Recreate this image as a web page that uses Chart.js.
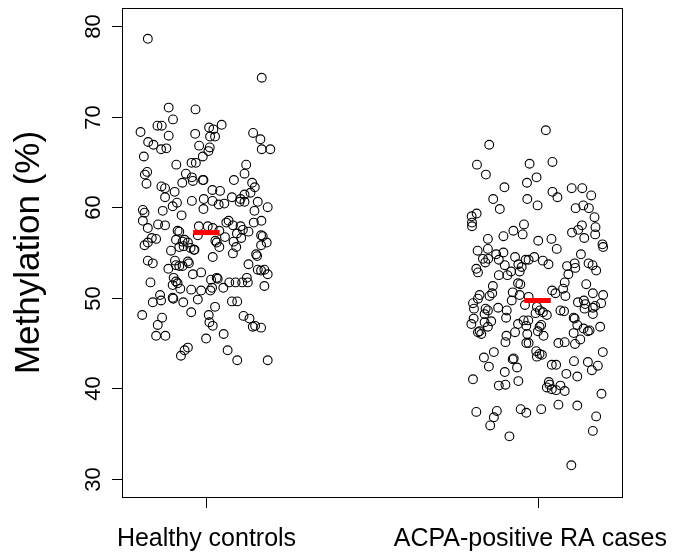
<!DOCTYPE html>
<html>
<head>
<meta charset="utf-8">
<script src="https://cdn.jsdelivr.net/npm/chart.js@4"></script>
<style>
  html, body { margin: 0; padding: 0; background: #fff; }
  #wrap { width: 681px; height: 557px; }
</style>
</head>
<body>
<div id="wrap"><canvas id="chart" width="681" height="557"></canvas></div>
<script>
// groups sit at x = 1 and x = 2, points spread sideways by a small offset
const groups = ["Healthy controls", "ACPA-positive RA cases"];
const groupPos = [1, 2];
const yTicks = [30, 40, 50, 60, 70, 80];

const healthyValues = [
  78.6, 74.3, 71.0, 70.8, 69.7, 69.0, 69.0, 68.8, 68.6, 69.1,
  68.3, 67.9, 68.1, 67.8, 67.8, 68.2, 67.5, 67.2, 66.9, 66.4,
  66.5, 66.8, 66.6, 66.2, 66.4, 66.4, 65.6, 65.6, 64.7, 64.9,
  64.9, 64.7, 63.6, 63.9, 63.7, 63.3, 62.9, 62.7, 63.0, 63.0,
  63.7, 63.0, 62.6, 62.3, 62.1, 61.7, 61.9, 61.8, 62.7, 62.2,
  61.1, 60.9, 61.1, 60.9, 61.4, 61.6,
  59.7, 59.4, 59.6, 60.1, 60.5, 59.1, 60.7, 59.8, 60.7, 60.3, 60.4, 60.6, 60.6, 59.6, 60.6, 60.0,
  58.5, 57.7, 58.1, 58.0, 57.4, 57.3, 57.9, 57.9, 57.7, 57.4, 58.3, 58.5, 58.0, 57.1, 57.9, 57.5, 57.3, 58.3, 58.5,
  56.9, 55.8, 56.1, 56.6, 56.5, 56.4, 56.2, 56.4, 56.1, 55.6, 55.7, 55.5, 55.3, 55.3, 56.3, 56.1, 55.6, 56.7, 56.2, 55.6, 56.6, 56.9, 56.8, 56.1, 55.8,
  55.2, 54.9, 54.5, 54.8, 54.6, 54.1, 53.8, 54.1, 53.6, 53.5, 53.5, 54.0, 53.8, 53.2, 52.6, 52.8, 53.7, 53.1, 53.0, 53.1, 52.6,
  51.7, 52.2, 51.8, 51.6, 51.4, 51.0, 50.9, 50.8, 50.8, 51.1, 52.0, 52.2, 52.1, 51.1, 51.7, 51.7, 51.7, 52.2, 51.7, 51.3,
  50.3, 49.5, 49.7, 50.0, 49.9, 49.5, 49.8, 48.4, 49.0, 49.6, 49.6,
  48.1, 47.8, 47.0, 45.8, 45.8, 48.1, 47.3, 46.9, 48.0, 47.7, 46.8, 46.9, 46.7, 46.0, 45.5, 44.5, 44.2, 43.6, 44.2, 43.1, 43.1
];
const healthyJitter = [
  -0.177, 0.167, -0.114, -0.033, -0.101, -0.148, -0.135, 0.008, 0.021, 0.046,
  -0.199, -0.114, -0.034, 0.011, 0.026, 0.141, 0.163, -0.176, -0.160, -0.137,
  -0.121, -0.022, 0.010, 0.006, 0.167, 0.193, -0.189, -0.011, -0.091, -0.045,
  -0.032, 0.120, -0.186, -0.179, -0.062, -0.044, -0.041, -0.073, -0.011, -0.009,
  0.115, 0.083, -0.181, -0.136, -0.125, -0.096, 0.018, 0.041, 0.138, 0.146,
  -0.125, -0.008, 0.077, 0.103, 0.115, 0.133,
  -0.192, -0.187, -0.132, -0.102, -0.089, -0.075, -0.044, -0.009, 0.018, 0.037, 0.054, 0.100, 0.115, 0.145, 0.155, 0.185,
  -0.192, -0.177, -0.146, -0.125, -0.087, -0.082, -0.023, 0.004, 0.019, 0.039, 0.060, 0.067, 0.080, 0.092, 0.103, 0.110, 0.127, 0.143, 0.166,
  -0.026, -0.187, -0.177, -0.165, -0.152, -0.092, -0.072, -0.066, -0.056, -0.082, -0.069, -0.048, -0.038, -0.036, 0.027, 0.031, 0.039, 0.056, 0.082, 0.090, 0.105, 0.165, 0.170, 0.182, 0.165,
  -0.107, 0.080, 0.019, 0.150, 0.153, -0.177, -0.162, -0.095, -0.092, -0.082, -0.072, -0.056, -0.053, -0.115, -0.041, -0.016, 0.127, 0.155, 0.165, 0.175, 0.185,
  -0.169, -0.099, -0.092, -0.087, -0.102, -0.079, -0.046, -0.016, 0.012, 0.017, 0.014, 0.031, 0.034, 0.051, 0.069, 0.088, 0.108, 0.122, 0.125, 0.175,
  -0.140, -0.162, -0.137, -0.102, -0.100, -0.070, -0.026, -0.046, 0.026, 0.077, 0.093,
  -0.194, -0.134, -0.147, -0.152, -0.124, 0.007, 0.009, 0.019, 0.112, 0.130, 0.140, 0.147, 0.165, 0.052, -0.001, -0.056, -0.066, -0.077, 0.064, 0.093, 0.185
];

const acpaValues = [
  68.5, 66.9, 64.7, 64.8, 65.0, 63.6, 62.2, 62.7, 63.3, 60.9,
  59.8, 60.9, 60.2, 61.7, 61.1, 62.1, 62.1, 61.3, 59.9, 60.2,
  59.9, 58.9, 59.0, 59.3, 58.3, 57.9, 58.1, 57.4, 57.0, 56.8,
  56.5, 56.3, 56.5, 55.4, 57.2, 57.5, 58.0, 56.6, 57.8, 57.0,
  55.9, 55.6, 55.2, 55.4, 55.0, 54.8, 54.3, 53.9, 54.3, 54.2,
  53.6, 54.5, 53.7, 53.4, 54.2, 54.2, 54.5, 54.1, 53.7, 52.9,
  52.9, 52.5, 52.5, 53.2, 52.8, 53.5, 53.8, 53.3, 54.8, 53.8,
  53.6, 53.0, 52.6,
  51.3, 51.6, 51.5, 51.7, 51.5, 50.8, 51.0, 50.5, 50.2, 50.5,
  50.3, 50.3, 49.9, 50.2, 50.5, 50.6, 49.7, 50.3, 50.1, 49.2,
  49.4, 48.8, 48.9, 48.6, 47.8, 48.8, 48.2, 48.6, 49.5, 49.7,
  49.3, 48.8, 48.9, 49.1, 49.4, 48.6, 48.5, 48.6, 48.4, 48.1,
  48.3, 49.0, 47.5, 47.5, 47.1, 47.7, 47.1, 47.3, 47.4, 46.8,
  46.2, 46.0, 46.3, 45.8, 45.1, 46.2, 46.9, 46.0, 45.0, 45.0,
  46.3, 46.8, 47.0, 45.8, 47.8, 47.7, 47.0, 46.6, 46.3, 46.4,
  48.2, 46.8, 46.1, 45.4, 44.9, 45.0, 45.1, 44.0, 44.0, 43.4,
  42.4, 43.2, 43.3, 42.3, 41.8, 41.0, 40.3, 40.4, 40.8, 44.1,
  43.8, 43.7, 43.5, 42.6, 42.6, 41.6, 41.3, 43.0, 42.9, 42.0,
  42.5, 40.7, 40.4, 40.1, 39.9, 39.8, 40.3, 39.7, 39.4, 37.4,
  36.8, 37.5, 35.9, 37.7, 37.3, 37.7, 38.2, 38.1, 36.9, 35.3,
  34.7, 31.5
];
const acpaJitter = [
  0.025, -0.146, -0.183, -0.024, 0.045, -0.156, -0.100, -0.032, -0.003, -0.134,
  -0.114, -0.031, 0.000, 0.045, 0.060, 0.103, 0.135, 0.162, 0.115, 0.138,
  0.155, 0.172, -0.199, -0.184, -0.198, -0.198, -0.041, -0.073, -0.045, -0.103,
  -0.150, 0.002, 0.042, 0.058, 0.104, 0.123, 0.134, 0.141, 0.175, 0.174,
  0.196, 0.198, -0.181, -0.150, -0.103, -0.125, -0.165, -0.158, -0.149, -0.117,
  -0.099, -0.068, -0.058, -0.048, -0.036, -0.027, -0.010, 0.016, 0.033, -0.054,
  -0.080, -0.091, -0.117, -0.185, -0.180, 0.089, 0.112, 0.114, 0.131, 0.154,
  0.166, 0.177, 0.093,
  -0.135, -0.059, -0.052, 0.082, 0.147, 0.044, 0.077, 0.054, 0.084, 0.167,
  0.198, -0.175, -0.180, -0.145, -0.137, -0.075, -0.078, -0.054, -0.027, -0.038,
  -0.195, -0.192, -0.119, -0.093, -0.095, -0.157, -0.160, -0.150, 0.122, 0.140,
  0.144, 0.142, 0.167, 0.174, 0.192, 0.069, 0.080, 0.007, 0.016, 0.028,
  -0.006, -0.002, -0.042, -0.028, -0.059, -0.193, -0.200, -0.160, -0.140, -0.150,
  -0.180, -0.170, -0.175, -0.094, -0.097, -0.068, -0.034, -0.031, -0.034, -0.027,
  0.001, 0.006, 0.011, 0.018, 0.109, 0.112, 0.120, 0.139, 0.152, 0.157,
  0.167, 0.189, 0.109, 0.129, 0.113, 0.063, 0.082, 0.197, -0.132, -0.162,
  -0.147, -0.075, -0.072, -0.062, -0.099, -0.195, -0.117, -0.097, -0.058, -0.004,
  0.006, 0.013, -0.002, 0.043, 0.056, 0.087, 0.120, 0.110, 0.152, 0.164,
  0.182, 0.034, 0.036, 0.028, 0.043, 0.056, 0.069, 0.082, 0.193, -0.185,
  -0.132, -0.123, -0.143, -0.051, -0.034, 0.011, 0.063, 0.120, 0.177, 0.167,
  -0.085, 0.102
];

// group medians, drawn as short red bars
const medians = [57.2, 49.7];

const FONT = "'Liberation Sans', Arial, Helvetica, sans-serif";

function toPoints(values, jitter, pos) {
  return values.map((v, i) => ({ x: pos + jitter[i], y: v }));
}

function medianBar(pos, m) {
  return [{ x: pos - 0.04, y: m }, { x: pos + 0.04, y: m }];
}

// R-style frame: box, outside ticks, rotated y labels, group names, y title
const frame = {
  id: "frame",
  afterDraw(chart) {
    const ctx = chart.ctx;
    const a = chart.chartArea;
    const xs = chart.scales.x;
    const ys = chart.scales.y;

    ctx.save();
    ctx.strokeStyle = "#000";
    ctx.fillStyle = "#000";
    ctx.lineWidth = 1;
    ctx.strokeRect(a.left + 0.5, a.top + 0.5, a.right - a.left, a.bottom - a.top);

    // y axis
    ctx.font = "22px " + FONT;
    ctx.textAlign = "center";
    ctx.textBaseline = "alphabetic";
    yTicks.forEach((t) => {
      const y = Math.round(ys.getPixelForValue(t)) + 0.5;
      ctx.beginPath();
      ctx.moveTo(a.left - 10, y);
      ctx.lineTo(a.left + 0.5, y);
      ctx.stroke();
      ctx.save();
      ctx.translate(a.left - 22, y);
      ctx.rotate(-Math.PI / 2);
      ctx.fillText(String(t), 0, 0);
      ctx.restore();
    });

    // x axis, labels kept inside the canvas
    ctx.font = "25px " + FONT;
    groups.forEach((g, i) => {
      const x = Math.round(xs.getPixelForValue(groupPos[i])) + 0.5;
      ctx.beginPath();
      ctx.moveTo(x, a.bottom);
      ctx.lineTo(x, a.bottom + 11);
      ctx.stroke();
      const half = ctx.measureText(g).width / 2;
      const lx = Math.min(x, chart.width - 14 - half);
      ctx.fillText(g, lx, a.bottom + 49);
    });

    // axis title
    ctx.font = "35px " + FONT;
    ctx.save();
    ctx.translate(39, (a.top + a.bottom) / 2);
    ctx.rotate(-Math.PI / 2);
    ctx.fillText("Methylation (%)", 0, 0);
    ctx.restore();

    ctx.restore();
  }
};

const pointStyle = {
  showLine: false,
  pointStyle: "circle",
  pointRadius: 4.4,
  pointBorderWidth: 1.1,
  pointBorderColor: "#000",
  pointBackgroundColor: "rgba(0,0,0,0)",
  order: 2
};

const barStyle = {
  showLine: true,
  borderColor: "#ff0000",
  borderWidth: 5,
  borderCapStyle: "butt",
  pointRadius: 0,
  order: 1
};

new Chart(document.getElementById("chart").getContext("2d"), {
  type: "scatter",
  data: {
    datasets: [
      Object.assign({ label: groups[0], data: toPoints(healthyValues, healthyJitter, groupPos[0]) }, pointStyle),
      Object.assign({ label: groups[1], data: toPoints(acpaValues, acpaJitter, groupPos[1]) }, pointStyle),
      Object.assign({ label: "median 1", data: medianBar(groupPos[0], medians[0]) }, barStyle),
      Object.assign({ label: "median 2", data: medianBar(groupPos[1], medians[1]) }, barStyle)
    ]
  },
  options: {
    responsive: false,
    animation: false,
    events: [],
    layout: { padding: { left: 122, top: 8, right: 59, bottom: 60 } },
    plugins: {
      legend: { display: false },
      tooltip: { enabled: false }
    },
    scales: {
      x: { type: "linear", min: 0.745, max: 2.255, display: false },
      y: { type: "linear", min: 28, max: 82, display: false }
    }
  },
  plugins: [frame]
});
</script>
</body>
</html>
